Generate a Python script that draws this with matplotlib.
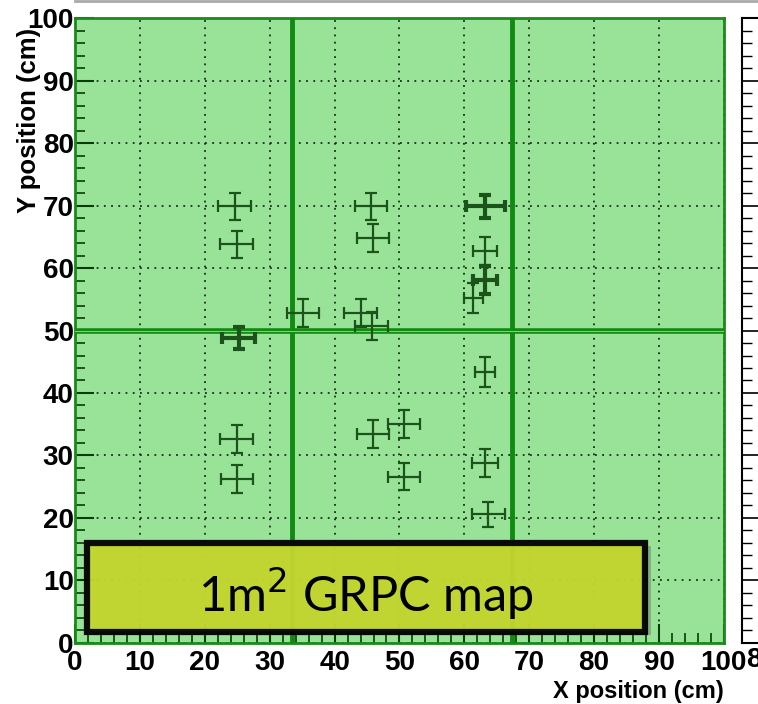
import matplotlib.pyplot as plt
from matplotlib.patches import Rectangle
from matplotlib.ticker import MultipleLocator

# hit positions (cm) and their errors
x_pos = [24.6, 24.9, 35.1, 25.2, 45.6, 45.9, 44.0, 45.7, 63.2, 63.2,
         63.2, 61.4, 63.2, 24.9, 25.0, 45.9, 50.7, 50.7, 63.2, 63.7]
y_pos = [69.9, 63.8, 52.8, 48.8, 69.9, 64.8, 52.8, 50.7, 69.9, 62.7,
         58.1, 55.2, 43.4, 32.6, 26.2, 33.4, 35.0, 26.6, 28.8, 20.6]
x_err = [2.5, 2.5, 2.5, 2.5, 2.5, 2.5, 2.5, 2.5, 3.0, 1.8,
         1.8, 1.5, 1.5, 2.5, 2.5, 2.5, 2.5, 2.5, 2.0, 2.5]
y_err = [2.2, 2.2, 2.2, 1.8, 2.2, 2.2, 2.2, 2.2, 1.8, 2.2,
         2.2, 2.4, 2.4, 2.2, 2.2, 2.2, 2.2, 2.2, 2.2, 2.0]
thick = [False, False, False, True, False, False, False, False, True, False,
         True, False, False, False, False, False, False, False, False, False]

# chamber boundaries
x_bounds = [33.5, 67.4]
y_bounds = [50.0]

fig = plt.figure(figsize=(7.58, 7.04), dpi=100)
ax = fig.add_axes([0.099, 0.087, 0.856, 0.887])
ax.set_xlim(0, 100)
ax.set_ylim(0, 100)
ax.set_facecolor("#99e399")

for sp in ax.spines.values():
    sp.set_color("#1a8a1a")
    sp.set_linewidth(2)

ax.xaxis.set_major_locator(MultipleLocator(10))
ax.yaxis.set_major_locator(MultipleLocator(10))
ax.xaxis.set_minor_locator(MultipleLocator(2))
ax.yaxis.set_minor_locator(MultipleLocator(2))
ax.tick_params(which="major", direction="in", length=14, width=1.5, color="#0a3a0a")
ax.tick_params(which="minor", direction="in", length=7, width=1.2, color="#0a3a0a")
ax.tick_params(labelsize=20, pad=1)
ax.tick_params(axis="x", pad=5)
for lab in ax.get_xticklabels() + ax.get_yticklabels():
    lab.set_fontweight("bold")
    lab.set_family("Liberation Sans")
ax.grid(True, which="major", linestyle=(0, (1, 3)), color="#1a2a1a", linewidth=1.3)

for xb in x_bounds:
    ax.axvline(xb, color="#108a10", linewidth=3.5, zorder=3)
for yb in y_bounds:
    ax.axhline(yb, color="#108a10", linewidth=4, zorder=3)
    ax.axhline(yb, color="#7ccf7c", linewidth=0.8, zorder=3)

for x, y, xe, ye, t in zip(x_pos, y_pos, x_err, y_err, thick):
    ax.errorbar(x, y, xerr=xe, yerr=ye, fmt="none", ecolor="#1b531b",
                elinewidth=3 if t else 1.6, capsize=4, capthick=3 if t else 1.6, zorder=4)

ax.set_xlabel("X position (cm)", fontsize=17, fontweight="bold",
              family="Liberation Sans", loc="right")
ax.xaxis.set_label_coords(1.0, -0.06)
ax.set_ylabel("Y position (cm)", fontsize=18.5, fontweight="bold",
              family="Liberation Sans", loc="top")
ax.yaxis.set_label_coords(-0.053, 0.985)

# label box
ax.add_patch(Rectangle((2.8, 1.3), 86, 14.2, facecolor="#555555", alpha=0.35,
                       edgecolor="none", zorder=5))
ax.add_patch(Rectangle((1.8, 1.8), 86, 14.2, facecolor="#c4d82e", alpha=0.95,
                       edgecolor="black", linewidth=4.5, zorder=6))
ax.text(44.8, 7.9, r"1m$^{2}$ GRPC map", fontsize=35, family="Lato",
        ha="center", va="center", zorder=7)

# top grey frame line and partial right axis
fig.add_artist(plt.Line2D([0.099, 1.0], [0.999, 0.999], color="#aaaaaa", linewidth=2))
ax2 = fig.add_axes([0.979, 0.087, 0.05, 0.887])
ax2.set_xlim(0, 1)
ax2.set_ylim(0, 100)
ax2.set_xticks([])
ax2.yaxis.set_major_locator(MultipleLocator(10))
ax2.yaxis.set_minor_locator(MultipleLocator(2))
ax2.tick_params(which="major", direction="in", length=14, width=1.2, labelleft=False)
ax2.tick_params(which="minor", direction="in", length=7, width=1.0)
for sp in ax2.spines.values():
    sp.set_linewidth(1.5)
fig.text(0.984, 0.062, "8", fontsize=20, fontweight="bold", family="Liberation Sans",
         ha="left", va="center")

fig.savefig("out.png", dpi=100)
